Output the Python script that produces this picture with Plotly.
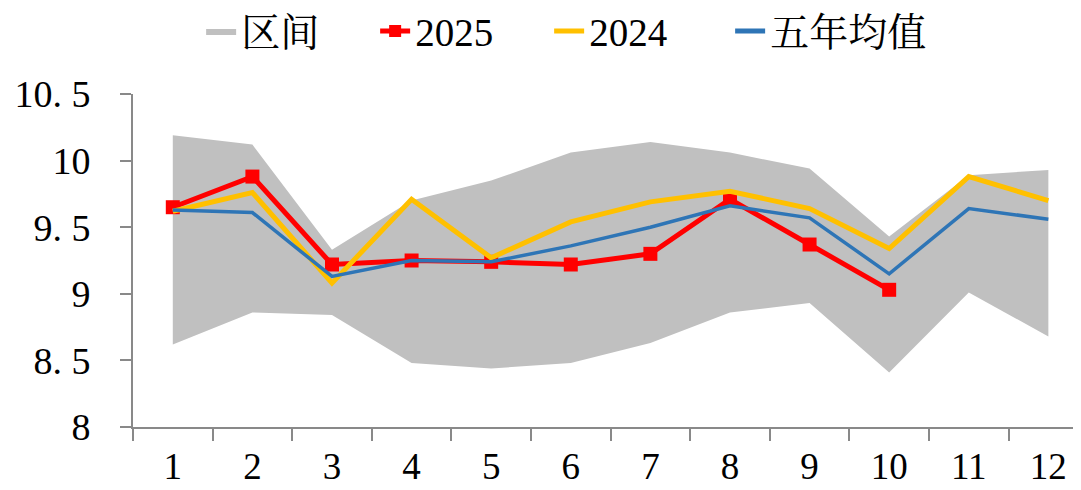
import plotly.graph_objects as go

months = [1, 2, 3, 4, 5, 6, 7, 8, 9, 10, 11, 12]
month_labels = [str(m) for m in months]
band_max = [10.19, 10.12, 9.33, 9.70, 9.85, 10.06, 10.14, 10.06, 9.94, 9.43, 9.89, 9.93]
band_min = [8.62, 8.86, 8.84, 8.48, 8.44, 8.48, 8.63, 8.86, 8.93, 8.41, 9.01, 8.68]
y2025 = [9.65, 9.88, 9.22, 9.25, 9.24, 9.22, 9.30, 9.71, 9.37, 9.03, None, None]
y2024 = [9.62, 9.76, 9.08, 9.71, 9.27, 9.54, 9.69, 9.77, 9.64, 9.34, 9.88, 9.70]
avg5 = [9.63, 9.61, 9.13, 9.25, 9.24, 9.36, 9.50, 9.66, 9.57, 9.15, 9.64, 9.56]
y_ticks = [8, 8.5, 9, 9.5, 10, 10.5]
y_tick_text = ["8", "8. 5", "9", "9. 5", "10", "10. 5"]

FONT = "Liberation Serif, Noto Serif CJK SC, Noto Sans CJK SC, serif"
AXIS_COLOR = "#898989"

fig = go.Figure()
fig.add_trace(go.Scatter(x=months, y=band_min, mode="lines", line=dict(width=0),
                         showlegend=False, hoverinfo="skip"))
fig.add_trace(go.Scatter(x=months, y=band_max, mode="lines", line=dict(width=0),
                         fill="tonexty", fillcolor="#C0C0C0", name="区间"))
fig.add_trace(go.Scatter(x=months, y=y2025, mode="lines+markers", name="2025",
                         line=dict(color="#FF0000", width=5),
                         marker=dict(symbol="square", size=14, color="#FF0000")))
fig.add_trace(go.Scatter(x=months, y=y2024, mode="lines", name="2024",
                         line=dict(color="#FFC000", width=5)))
fig.add_trace(go.Scatter(x=months, y=avg5, mode="lines", name="五年均值", legend="legend2",
                         line=dict(color="#2E75B6", width=3.5)))

legend_common = dict(orientation="h", xref="container", yref="container",
                     xanchor="left", y=0.952, yanchor="middle",
                     font=dict(size=39), traceorder="normal", itemsizing="constant",
                     bgcolor="rgba(0,0,0,0)")

fig.update_layout(
    width=1073, height=482,
    margin=dict(l=125, r=0, t=86, b=63, autoexpand=False),
    paper_bgcolor="white", plot_bgcolor="white",
    font=dict(family=FONT, size=38, color="black"),
    legend=dict(x=0.180, entrywidth=129, entrywidthmode="pixels", **legend_common),
    legend2=dict(x=0.673, **legend_common),
    xaxis=dict(range=[0.5, 12.41], tickmode="array", tickvals=months, ticktext=month_labels,
               ticks="", showgrid=False, zeroline=False, showline=True, automargin=False,
               linecolor=AXIS_COLOR, linewidth=2, ticklabelstandoff=6,
               tickfont=dict(size=37),
               minor=dict(tickmode="array", tickvals=[m - 0.5 for m in months] + [12.5],
                          ticks="outside", ticklen=12, tickwidth=2, tickcolor=AXIS_COLOR,
                          showgrid=False)),
    yaxis=dict(range=[8, 10.5], tickmode="array", tickvals=y_ticks, ticktext=y_tick_text,
               ticks="outside", ticklen=11, tickwidth=2, tickcolor=AXIS_COLOR,
               showgrid=False, zeroline=False, showline=True, automargin=False,
               linecolor=AXIS_COLOR, linewidth=2, ticklabelstandoff=22),
)

fig.write_html("out.html")
